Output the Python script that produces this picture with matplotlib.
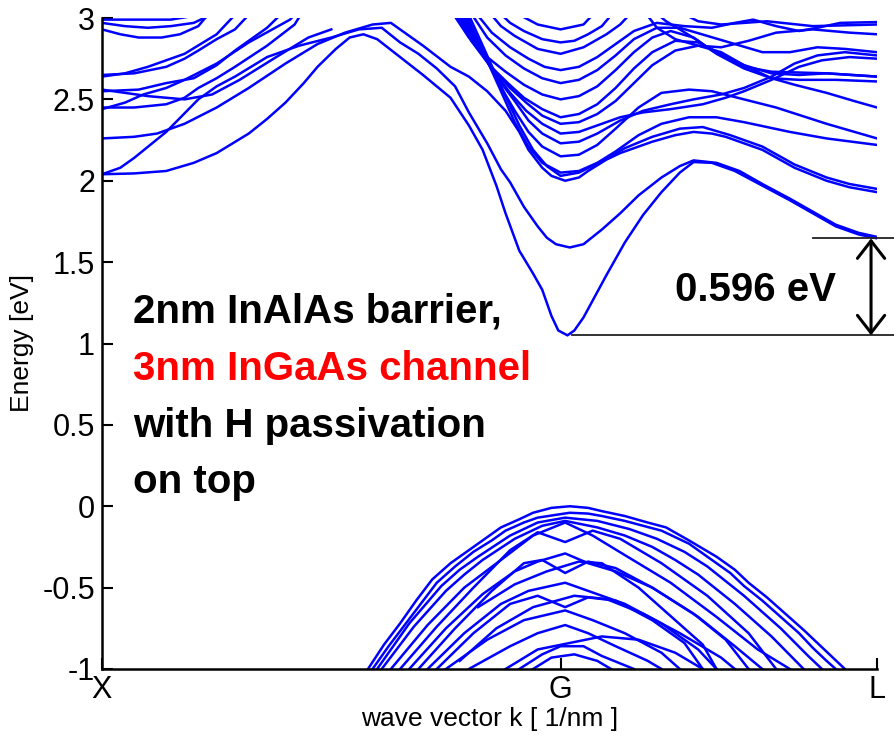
import matplotlib
matplotlib.use('Agg')
import matplotlib.pyplot as plt

# k axis: X = -1, G = 0, L = 0.69 (G-X distance taken as 1)
k_ticks = [-1.0, 0.0, 0.69]
k_labels = ['X', 'G', 'L']
e_ticks = [3, 2.5, 2, 1.5, 1, 0.5, 0, -0.5, -1]
e_labels = ['3', '2.5', '2', '1.5', '1', '0.5', '0', '-0.5', '-1']

# lowest conduction band: minimum at G, minimum at L
e_cb_g = 1.05
e_cb_l = 1.646
gap_label = '0.596 eV'

# ---- conduction bands, (k, E) nodes ----
c1 = [(-1.00, 2.04), (-0.93, 2.045), (-0.86, 2.06), (-0.80, 2.11), (-0.75, 2.17),
      (-0.68, 2.29), (-0.64, 2.38), (-0.60, 2.48), (-0.56, 2.60), (-0.53, 2.70),
      (-0.49, 2.81), (-0.46, 2.88), (-0.43, 2.90), (-0.40, 2.87), (-0.35, 2.76),
      (-0.30, 2.65), (-0.24, 2.51), (-0.20, 2.34), (-0.17, 2.19), (-0.14, 1.97),
      (-0.12, 1.80), (-0.09, 1.57), (-0.06, 1.43), (-0.04, 1.33), (-0.02, 1.17),
      (-0.005, 1.08), (0.015, e_cb_g), (0.03, 1.08), (0.05, 1.16), (0.075, 1.29),
      (0.10, 1.42), (0.14, 1.62), (0.18, 1.79), (0.22, 1.93), (0.26, 2.05),
      (0.29, 2.115), (0.33, 2.11), (0.38, 2.06), (0.44, 1.97), (0.50, 1.88),
      (0.55, 1.80), (0.60, 1.72), (0.65, 1.67), (0.69, e_cb_l)]
c2 = [(-1.00, 2.04), (-0.96, 2.08), (-0.93, 2.14), (-0.86, 2.30), (-0.79, 2.50),
      (-0.75, 2.58), (-0.71, 2.64), (-0.64, 2.76), (-0.57, 2.83), (-0.50, 2.88),
      (-0.44, 2.93), (-0.39, 2.94), (-0.35, 2.85), (-0.31, 2.78), (-0.27, 2.69),
      (-0.23, 2.58), (-0.20, 2.42), (-0.16, 2.23), (-0.13, 2.07), (-0.11, 1.99),
      (-0.08, 1.84), (-0.05, 1.72), (-0.03, 1.65), (-0.01, 1.61), (0.02, 1.59),
      (0.05, 1.61), (0.09, 1.70), (0.13, 1.80), (0.17, 1.91), (0.22, 2.02),
      (0.26, 2.09), (0.29, 2.125), (0.34, 2.11), (0.39, 2.06), (0.44, 1.98),
      (0.50, 1.89), (0.55, 1.81), (0.60, 1.73), (0.65, 1.68), (0.69, 1.655)]
c3 = [(-1.00, 2.26), (-0.93, 2.27), (-0.88, 2.29), (-0.82, 2.35), (-0.75, 2.45),
      (-0.68, 2.57), (-0.60, 2.72), (-0.53, 2.84), (-0.47, 2.91), (-0.41, 2.96),
      (-0.37, 2.97), (-0.35, 2.93), (-0.30, 2.83), (-0.24, 2.70), (-0.20, 2.64),
      (-0.16, 2.55), (-0.12, 2.43), (-0.09, 2.30), (-0.07, 2.19), (-0.04, 2.08),
      (-0.02, 2.03), (0.01, 2.00), (0.04, 2.02), (0.06, 2.06), (0.10, 2.13),
      (0.13, 2.17), (0.20, 2.24), (0.25, 2.28), (0.29, 2.30), (0.33, 2.29),
      (0.36, 2.27), (0.40, 2.23), (0.44, 2.19), (0.51, 2.08), (0.58, 2.00),
      (0.63, 1.96), (0.69, 1.93)]
c3b = [(-0.205, 3.05), (-0.165, 2.80), (-0.125, 2.55), (-0.09, 2.34), (-0.06, 2.19),
       (-0.03, 2.09), (0.00, 2.03), (0.04, 2.05), (0.09, 2.12), (0.14, 2.20),
       (0.20, 2.27), (0.26, 2.32), (0.31, 2.33), (0.37, 2.28), (0.44, 2.21),
       (0.51, 2.10), (0.58, 2.02), (0.63, 1.98), (0.69, 1.95)]

# bands rising out of the window on the X side
x4 = [(-1.00, 2.45), (-0.93, 2.45), (-0.86, 2.47), (-0.82, 2.51), (-0.79, 2.57),
      (-0.75, 2.63), (-0.71, 2.70), (-0.64, 2.83), (-0.58, 2.96), (-0.56, 3.05)]
x5 = [(-1.00, 2.44), (-0.95, 2.48), (-0.91, 2.53), (-0.86, 2.57), (-0.82, 2.62),
      (-0.75, 2.72), (-0.68, 2.85), (-0.59, 2.99), (-0.57, 3.05)]
x6 = [(-1.00, 2.55), (-0.92, 2.56), (-0.86, 2.60), (-0.80, 2.63), (-0.75, 2.71),
      (-0.71, 2.80), (-0.64, 2.94), (-0.60, 3.05)]
x6b = [(-1.00, 2.56), (-0.95, 2.54), (-0.90, 2.52), (-0.82, 2.50), (-0.76, 2.53),
       (-0.70, 2.62), (-0.62, 2.76), (-0.55, 2.88), (-0.50, 2.93)]
x7 = [(-1.00, 2.65), (-0.93, 2.66), (-0.86, 2.70), (-0.82, 2.75), (-0.79, 2.80),
      (-0.75, 2.87), (-0.71, 2.93), (-0.67, 3.05)]
x8 = [(-1.00, 2.64), (-0.95, 2.66), (-0.90, 2.70), (-0.82, 2.78), (-0.75, 2.90),
      (-0.70, 3.05)]
x9 = [(-1.00, 2.93), (-0.96, 2.90), (-0.92, 2.88), (-0.87, 2.88), (-0.83, 2.90),
      (-0.79, 2.95), (-0.76, 3.05)]
x10 = [(-1.00, 2.97), (-0.95, 2.95), (-0.90, 2.94), (-0.85, 2.95), (-0.80, 2.97),
       (-0.74, 3.05)]
x11 = [(-1.00, 2.99), (-0.85, 2.99), (-0.72, 3.05)]

# bands with their minimum at G
g4 = [(-0.21, 3.05), (-0.17, 2.80), (-0.13, 2.55), (-0.10, 2.36), (-0.07, 2.21),
      (-0.04, 2.11), (0.00, 2.05), (0.04, 2.06), (0.08, 2.11), (0.12, 2.18),
      (0.17, 2.28), (0.22, 2.35), (0.28, 2.39), (0.34, 2.39), (0.40, 2.36),
      (0.50, 2.30), (0.58, 2.26), (0.69, 2.22)]
g5 = [(-0.215, 3.05), (-0.175, 2.82), (-0.135, 2.60), (-0.10, 2.43), (-0.07, 2.30),
      (-0.04, 2.21), (0.00, 2.15), (0.04, 2.16), (0.08, 2.22), (0.12, 2.32),
      (0.17, 2.45), (0.22, 2.54), (0.28, 2.56), (0.33, 2.55), (0.40, 2.50),
      (0.47, 2.45), (0.58, 2.35), (0.69, 2.26)]
g6 = [(-0.22, 3.05), (-0.18, 2.83), (-0.14, 2.64), (-0.10, 2.49), (-0.07, 2.37),
      (-0.04, 2.29), (0.00, 2.23), (0.04, 2.24), (0.08, 2.29), (0.13, 2.37),
      (0.18, 2.43), (0.24, 2.47), (0.29, 2.50), (0.35, 2.53), (0.40, 2.57),
      (0.46, 2.64), (0.51, 2.72), (0.56, 2.77), (0.62, 2.79), (0.69, 2.77)]
g7 = [(-0.225, 3.05), (-0.185, 2.84), (-0.145, 2.67), (-0.11, 2.54), (-0.075, 2.43),
      (-0.04, 2.35), (0.00, 2.29), (0.04, 2.30), (0.08, 2.34), (0.13, 2.39),
      (0.18, 2.42), (0.24, 2.44), (0.31, 2.47), (0.36, 2.51), (0.40, 2.55),
      (0.46, 2.62), (0.52, 2.70), (0.57, 2.74), (0.63, 2.76), (0.69, 2.75)]
g8 = [(-0.23, 3.05), (-0.19, 2.85), (-0.15, 2.69), (-0.11, 2.57), (-0.075, 2.48),
      (-0.04, 2.40), (0.00, 2.35), (0.04, 2.36), (0.08, 2.41), (0.12, 2.49),
      (0.16, 2.60), (0.20, 2.71), (0.25, 2.80), (0.30, 2.83), (0.35, 2.79),
      (0.40, 2.71), (0.46, 2.63), (0.51, 2.59), (0.58, 2.54), (0.64, 2.49),
      (0.69, 2.45)]
g9 = [(-0.235, 3.05), (-0.195, 2.86), (-0.155, 2.71), (-0.115, 2.60), (-0.08, 2.51),
      (-0.04, 2.44), (0.00, 2.39), (0.04, 2.41), (0.08, 2.47), (0.12, 2.57),
      (0.16, 2.69), (0.20, 2.79), (0.25, 2.86), (0.30, 2.85), (0.35, 2.78),
      (0.40, 2.71), (0.46, 2.66), (0.52, 2.65), (0.58, 2.66), (0.69, 2.64)]
g10 = [(-0.24, 3.05), (-0.20, 2.88), (-0.16, 2.76), (-0.12, 2.67), (-0.08, 2.59),
       (-0.04, 2.53), (0.00, 2.50), (0.04, 2.52), (0.08, 2.58), (0.12, 2.68),
       (0.16, 2.79), (0.20, 2.88), (0.24, 2.92), (0.29, 2.88), (0.34, 2.78),
       (0.40, 2.69), (0.46, 2.63), (0.52, 2.62), (0.60, 2.62), (0.69, 2.61)]
g11 = [(-0.20, 3.05), (-0.16, 2.88), (-0.12, 2.77), (-0.08, 2.69), (-0.04, 2.63),
       (0.00, 2.60), (0.04, 2.62), (0.08, 2.68), (0.12, 2.77), (0.16, 2.87),
       (0.21, 2.94), (0.26, 2.94), (0.32, 2.89), (0.38, 2.84), (0.44, 2.79),
       (0.50, 2.79), (0.56, 2.82), (0.62, 2.81), (0.69, 2.79)]
g12 = [(-0.19, 3.05), (-0.15, 2.91), (-0.11, 2.82), (-0.07, 2.75), (-0.035, 2.70),
       (0.00, 2.68), (0.04, 2.70), (0.08, 2.76), (0.12, 2.84), (0.16, 2.92),
       (0.21, 2.97), (0.27, 2.95), (0.33, 2.94), (0.38, 2.97), (0.42, 2.99),
       (0.47, 2.95), (0.52, 2.92), (0.56, 2.94), (0.61, 2.97), (0.69, 2.975)]
g13 = [(-0.16, 3.05), (-0.13, 2.95), (-0.10, 2.89), (-0.05, 2.81), (0.00, 2.78),
       (0.05, 2.82), (0.10, 2.90), (0.13, 2.96), (0.16, 3.05)]
g14 = [(-0.14, 3.05), (-0.11, 2.97), (-0.08, 2.92), (-0.04, 2.87), (0.00, 2.85),
       (0.03, 2.86), (0.06, 2.90), (0.09, 2.95), (0.12, 3.05)]
g15 = [(-0.11, 3.05), (-0.05, 2.96), (0.00, 2.93), (0.05, 2.96), (0.08, 3.05)]

# upper bands on the L side
l1 = [(0.18, 3.05), (0.21, 2.94), (0.25, 2.87), (0.30, 2.83), (0.35, 2.82),
      (0.41, 2.86), (0.47, 2.91), (0.55, 2.93), (0.63, 2.91), (0.69, 2.90)]
l2 = [(0.25, 3.05), (0.30, 2.98), (0.35, 2.96), (0.45, 2.98), (0.55, 2.95),
      (0.69, 2.96)]
l3 = [(0.20, 3.05), (0.23, 2.98), (0.26, 2.93), (0.30, 2.86), (0.33, 2.80),
      (0.37, 2.74), (0.40, 2.70), (0.46, 2.67), (0.58, 2.66), (0.69, 2.64)]

# ---- valence bands ----
v1 = [(-0.42, -1.0), (-0.385, -0.85), (-0.35, -0.72), (-0.315, -0.58), (-0.28, -0.45),
      (-0.24, -0.35), (-0.20, -0.27), (-0.16, -0.19), (-0.13, -0.13), (-0.09, -0.08),
      (-0.06, -0.04), (-0.02, -0.01), (0.02, 0.0), (0.06, -0.01), (0.09, -0.03),
      (0.14, -0.06), (0.19, -0.10), (0.23, -0.13), (0.28, -0.21), (0.34, -0.31),
      (0.38, -0.39), (0.41, -0.47), (0.45, -0.56), (0.49, -0.66), (0.53, -0.76),
      (0.56, -0.84), (0.59, -0.92), (0.62, -1.0)]
v1b = [(-0.41, -1.0), (-0.375, -0.86), (-0.34, -0.73), (-0.305, -0.60), (-0.27, -0.47),
       (-0.23, -0.37), (-0.19, -0.28), (-0.15, -0.21), (-0.12, -0.15), (-0.08, -0.10),
       (-0.05, -0.07), (0.02, -0.04), (0.06, -0.045), (0.09, -0.06), (0.14, -0.09),
       (0.18, -0.12), (0.22, -0.15), (0.28, -0.23), (0.33, -0.33), (0.37, -0.41),
       (0.40, -0.49), (0.44, -0.58), (0.48, -0.68), (0.52, -0.78), (0.55, -0.87),
       (0.58, -0.95), (0.60, -1.0)]
v2 = [(-0.40, -1.0), (-0.33, -0.72), (-0.26, -0.49), (-0.22, -0.39), (-0.18, -0.31),
      (-0.11, -0.18), (-0.05, -0.10), (0.01, -0.07), (0.08, -0.09), (0.15, -0.14),
      (0.21, -0.20), (0.27, -0.28), (0.32, -0.37), (0.40, -0.55), (0.48, -0.75),
      (0.54, -0.92), (0.57, -1.0)]
v2b = [(-0.39, -1.0), (-0.32, -0.74), (-0.25, -0.52), (-0.21, -0.42), (-0.17, -0.33),
       (-0.10, -0.20), (-0.04, -0.12), (0.01, -0.09), (0.08, -0.13), (0.14, -0.18),
       (0.20, -0.25), (0.25, -0.33), (0.30, -0.42), (0.38, -0.60), (0.46, -0.80),
       (0.53, -1.0)]
v3 = [(-0.37, -1.0), (-0.29, -0.73), (-0.21, -0.50), (-0.13, -0.33), (-0.06, -0.18),
      (0.01, -0.10), (0.07, -0.18), (0.14, -0.30), (0.24, -0.47), (0.34, -0.68),
      (0.43, -0.88), (0.50, -1.0)]
v4 = [(-0.35, -1.0), (-0.27, -0.74), (-0.19, -0.50), (-0.11, -0.27), (-0.05, -0.16),
      (0.01, -0.22), (0.07, -0.15), (0.13, -0.20), (0.22, -0.35), (0.32, -0.55),
      (0.41, -0.78), (0.47, -1.0)]
v5 = [(-0.33, -1.0), (-0.25, -0.75), (-0.17, -0.54), (-0.10, -0.40), (-0.05, -0.34),
      (0.01, -0.29), (0.06, -0.35), (0.12, -0.40), (0.20, -0.50), (0.30, -0.68),
      (0.38, -0.86), (0.44, -1.0)]
v6 = [(-0.31, -1.0), (-0.23, -0.75), (-0.15, -0.52), (-0.08, -0.35), (-0.04, -0.33),
      (0.01, -0.41), (0.06, -0.34), (0.12, -0.38), (0.20, -0.50), (0.29, -0.66),
      (0.36, -0.82), (0.41, -1.0)]
v7 = [(-0.29, -1.0), (-0.21, -0.78), (-0.13, -0.60), (-0.07, -0.52), (0.01, -0.47),
      (0.07, -0.53), (0.14, -0.60), (0.22, -0.72), (0.30, -0.88), (0.34, -1.0)]
v8 = [(-0.27, -1.0), (-0.19, -0.78), (-0.11, -0.60), (-0.05, -0.55), (0.01, -0.62),
      (0.06, -0.56), (0.12, -0.58), (0.20, -0.70), (0.27, -0.84), (0.31, -1.0)]
v9 = [(-0.25, -1.0), (-0.16, -0.82), (-0.08, -0.70), (0.01, -0.64), (0.07, -0.70),
      (0.14, -0.78), (0.22, -0.90), (0.26, -1.0)]
v10 = [(-0.20, -1.0), (-0.11, -0.86), (-0.05, -0.78), (0.01, -0.73), (0.06, -0.78),
       (0.12, -0.86), (0.19, -0.95), (0.22, -1.0)]
v11 = [(-0.09, -1.0), (-0.04, -0.91), (0.00, -0.86), (0.05, -0.86), (0.09, -0.92),
       (0.16, -1.0)]
v12 = [(-0.06, -1.0), (-0.02, -0.93), (0.03, -0.91), (0.08, -0.95), (0.11, -1.0)]
v13 = [(-0.18, -0.62), (-0.10, -0.48), (-0.03, -0.40), (0.04, -0.34), (0.09, -0.35),
       (0.17, -0.50), (0.25, -0.70), (0.31, -0.85), (0.34, -1.0)]
v14 = [(-0.22, -0.95), (-0.14, -0.75), (-0.06, -0.62), (0.03, -0.55), (0.10, -0.57),
       (0.18, -0.66), (0.26, -0.78), (0.35, -0.93), (0.38, -1.0)]
v15 = [(-0.12, -1.0), (-0.05, -0.88), (0.02, -0.84), (0.09, -0.80), (0.17, -0.82),
       (0.25, -0.90), (0.31, -1.0)]

bands = [c1, c2, c3, c3b, x4, x5, x6, x6b, x7, x8, x9, x10, x11,
         g4, g5, g6, g7, g8, g9, g10, g11, g12, g13, g14, g15, l1, l2, l3,
         v1, v1b, v2, v2b, v3, v4, v5, v6, v7, v8, v9, v10, v11, v12, v13, v14, v15]

plt.rcParams['font.family'] = ['Liberation Sans', 'DejaVu Sans']

fig = plt.figure(figsize=(8.94, 7.41), dpi=100)
ax = fig.add_axes([102 / 894, 1 - 669 / 741, 775 / 894, 651 / 741])

for band in bands:
    ks = [p[0] for p in band]
    es = [p[1] for p in band]
    ax.plot(ks, es, color='#0000ff', lw=1.8, solid_joinstyle='round')

ax.set_xlim(-1.0, 0.69)
ax.set_ylim(-1, 3)
ax.set_xticks(k_ticks)
ax.set_xticklabels(k_labels)
ax.set_yticks(e_ticks)
ax.set_yticklabels(e_labels)
ax.tick_params(direction='in', length=8, width=1.5, labelsize=22)
ax.tick_params(axis='y', pad=5)
ax.tick_params(axis='x', pad=4)
for side in ['top', 'right']:
    ax.spines[side].set_visible(False)
for side in ['left', 'bottom']:
    ax.spines[side].set_linewidth(1.8)

ax.set_xlabel('wave vector k [ 1/nm ]', fontsize=19)
ax.set_ylabel('Energy [eV]', fontsize=19)
ax.yaxis.set_label_coords(-0.088, 0.5)
ax.xaxis.set_label_coords(0.5, -0.058)

# gap between the G and L minima
k_arrow = 0.677
ax.plot([0.025, 0.74], [e_cb_g, e_cb_g], color='#222222', lw=1.3, clip_on=False)
ax.plot([0.55, 0.74], [e_cb_l, e_cb_l], color='#222222', lw=1.3, clip_on=False)
ax.annotate('', xy=(k_arrow, e_cb_l), xytext=(k_arrow, e_cb_g),
            arrowprops=dict(arrowstyle='<->,head_length=0.45,head_width=0.35',
                            color='black', lw=2.2, mutation_scale=28,
                            shrinkA=0, shrinkB=0))
ax.text(0.426, 1.33, gap_label, fontsize=29, fontweight='bold',
        ha='center', va='center')

lines = [('2nm InAlAs barrier,', 'black', 1.126),
         ('3nm InGaAs channel', '#ff0000', 0.776),
         ('with H passivation', 'black', 0.426),
         ('on top', 'black', 0.081)]
for txt, col, y in lines:
    ax.text(-0.932, y, txt, color=col, fontsize=29, fontweight='bold',
            ha='left', va='baseline')

fig.savefig('out.png', dpi=100)
